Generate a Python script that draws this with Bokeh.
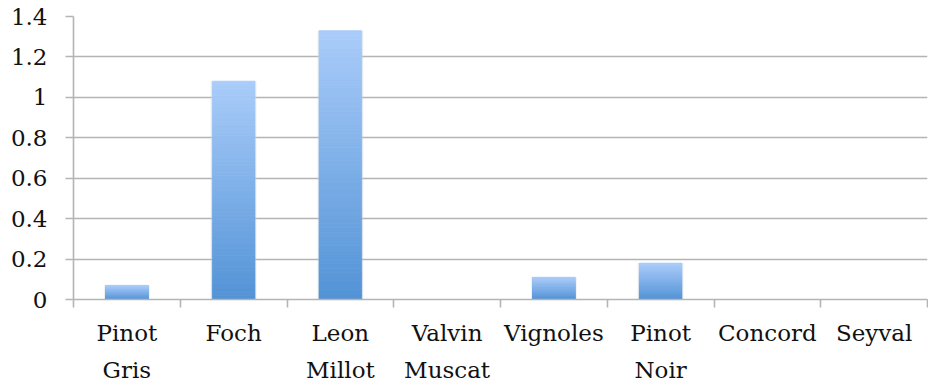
import numpy as np
from bokeh.plotting import figure
from bokeh.models import FixedTicker, Range1d, ColumnDataSource
from bokeh.embed import file_html
from bokeh.resources import INLINE

# Grape varieties and their measured values
varieties = ["Pinot\nGris", "Foch", "Leon\nMillot", "Valvin\nMuscat",
             "Vignoles", "Pinot\nNoir", "Concord", "Seyval"]
values = [0.07, 1.08, 1.33, 0.0, 0.11, 0.18, 0.0, 0.0]

y_ticks = [0.0, 0.2, 0.4, 0.6, 0.8, 1.0, 1.2, 1.4]
y_tick_labels = ["0", "0.2", "0.4", "0.6", "0.8", "1", "1.2", "1.4"]

FONT = "DejaVu Serif"
GRID = "#b4b4b4"
DARK = np.array([0x52, 0x93, 0xd6])   # bar colour at the base
LIGHT = np.array([0xaa, 0xcc, 0xfa])  # bar colour at the top

n_cat = len(varieties)
centers = [i + 0.5 for i in range(n_cat)]
bounds = [float(i) for i in range(n_cat + 1)]

p = figure(width=928, height=386, output_backend="svg", toolbar_location=None,
           x_range=Range1d(0, n_cat), y_range=Range1d(0, 1.4),
           min_border_left=73, min_border_right=1, min_border_top=16,
           min_border_bottom=87)
p.outline_line_color = None
p.background_fill_color = "white"
p.border_fill_color = "white"

# vertical gradient bars: each bar is split into thin slices along its own height
steps = 60
xs, bots, tops, cols = [], [], [], []
for c, v in zip(centers, values):
    if v <= 0:
        continue
    for k in range(steps):
        t = (k + 0.5) / steps
        rgb = (DARK + (LIGHT - DARK) * t).round().astype(int)
        xs.append(c)
        bots.append(v * k / steps)
        tops.append(v * (k + 1) / steps)
        cols.append("#%02x%02x%02x" % tuple(rgb))

# soft halo behind each bar
halo = ColumnDataSource(dict(x=[c for c, v in zip(centers, values) if v > 0],
                             top=[v for v in values if v > 0]))
p.vbar(x="x", top="top", bottom=0, width=0.43, source=halo,
       fill_color="#d8d8d8", fill_alpha=0.35, line_color=None)

src = ColumnDataSource(dict(x=xs, bottom=bots, top=tops, color=cols))
p.vbar(x="x", bottom="bottom", top="top", width=0.4, source=src,
       fill_color="color", line_color="color", line_width=0.8)

# grid
p.xgrid.visible = False
p.ygrid.ticker = FixedTicker(ticks=y_ticks)
p.ygrid.grid_line_color = GRID
p.ygrid.grid_line_width = 1.6
p.ygrid.level = "underlay"

# y axis
ya = p.yaxis[0]
ya.ticker = FixedTicker(ticks=y_ticks, minor_ticks=[])
ya.major_label_overrides = {t: s for t, s in zip(y_ticks, y_tick_labels)}
ya.axis_line_color = GRID
ya.axis_line_width = 1.6
ya.major_tick_line_color = GRID
ya.major_tick_line_width = 1.6
ya.major_tick_out = 8
ya.major_tick_in = 0
ya.major_label_standoff = 18
ya.major_label_text_font = FONT
ya.major_label_text_font_size = "23px"
ya.major_label_text_color = "#111111"

# x axis: labels at category centres, ticks at category boundaries
xa = p.xaxis[0]
xa.ticker = FixedTicker(ticks=centers, minor_ticks=bounds)
xa.major_label_overrides = {c: s for c, s in zip(centers, varieties)}
xa.axis_line_color = GRID
xa.axis_line_width = 1.6
xa.major_tick_out = 0
xa.major_tick_in = 0
xa.major_tick_line_color = None
xa.minor_tick_out = 8
xa.minor_tick_in = 0
xa.minor_tick_line_color = GRID
xa.minor_tick_line_width = 1.6
xa.major_label_standoff = 12
xa.major_label_text_font = FONT
xa.major_label_text_font_size = "23px"
xa.major_label_text_color = "#111111"
xa.major_label_text_line_height = 1.45

open("out.html", "w").write(file_html(p, INLINE))
